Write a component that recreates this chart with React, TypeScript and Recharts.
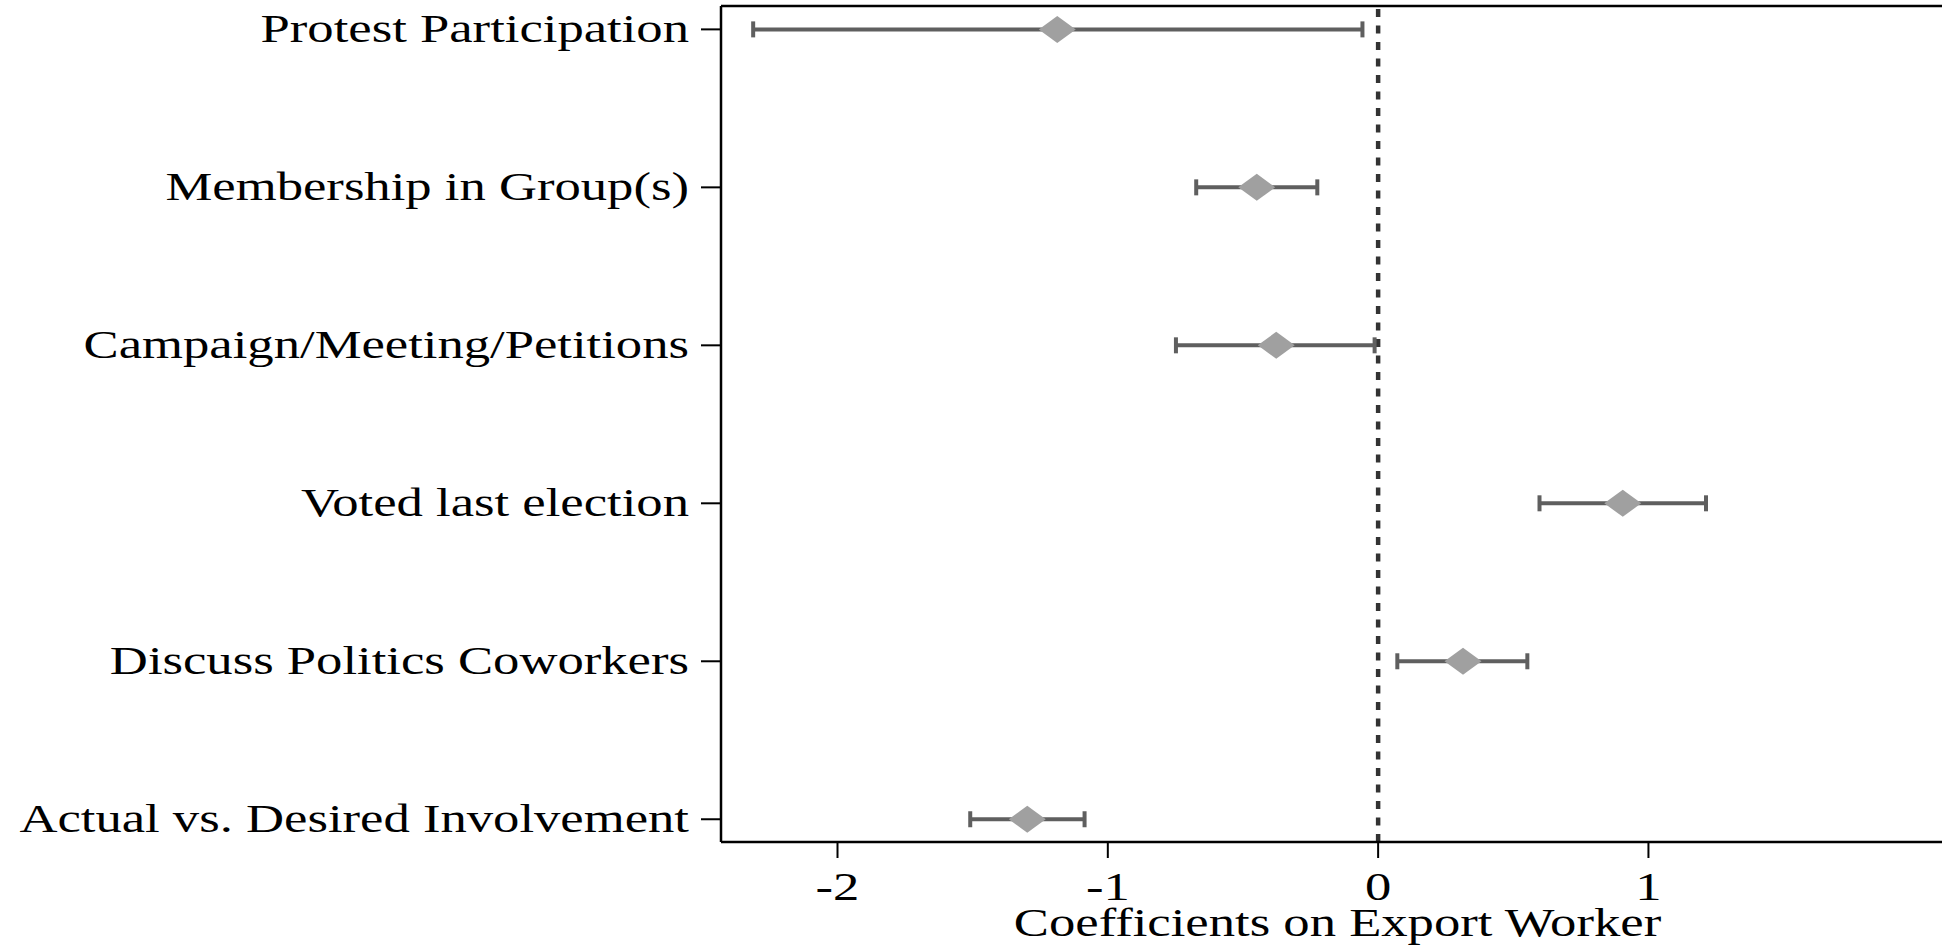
import {
  ErrorBar,
  Label,
  ReferenceLine,
  Scatter,
  ScatterChart,
  XAxis,
  YAxis,
} from "recharts";

// top to bottom, as in the figure
const OUTCOMES = [
  "Protest Participation",
  "Membership in Group(s)",
  "Campaign/Meeting/Petitions",
  "Voted last election",
  "Discuss Politics Coworkers",
  "Actual vs. Desired Involvement",
];
const COEFS = [-1.187, -0.449, -0.377, 0.905, 0.314, -1.298];
const CI_LOW = [-2.312, -0.673, -0.748, 0.597, 0.071, -1.509];
const CI_HIGH = [-0.058, -0.225, -0.013, 1.213, 0.552, -1.086];

const X_TICKS = [-2, -1, 0, 1];
const X_TITLE = "Coefficients on Export Worker";
const X_DOMAIN: [number, number] = [-2.431, 2.086];
const Y_DOMAIN: [number, number] = [0.856, 6.148];

const FONT = "'Liberation Serif', 'Times New Roman', serif";
const FONT_SIZE = 39;
// the source image is stretched sideways, text included
const STRETCH = 1.35;

const rows = OUTCOMES.map((name, i) => ({
  name,
  x: COEFS[i],
  y: OUTCOMES.length - i,
  err: [COEFS[i] - CI_LOW[i], CI_HIGH[i] - COEFS[i]],
}));

const yLabel = (v: number) => OUTCOMES[OUTCOMES.length - v] ?? "";

function WideText({ x, y, anchor, children }: any) {
  return (
    <g transform={`translate(${x},${y}) scale(${STRETCH},1)`}>
      <text
        x={0}
        y={0}
        textAnchor={anchor}
        fontSize={FONT_SIZE}
        fontFamily={FONT}
        fill="#000"
      >
        {children}
      </text>
    </g>
  );
}

function YTick(props: any) {
  const { x, y, payload } = props;
  return (
    <WideText x={x} y={y + 13} anchor="end">
      {yLabel(payload.value)}
    </WideText>
  );
}

function XTick(props: any) {
  const { x, y, payload } = props;
  return (
    <WideText x={x} y={y + 42} anchor="middle">
      {payload.value}
    </WideText>
  );
}

function XTitle(props: any) {
  const { x, y, width, height } = props.viewBox;
  return (
    <WideText x={x + width / 2 + 6} y={y + height - 12} anchor="middle">
      {X_TITLE}
    </WideText>
  );
}

function Diamond(props: any) {
  const { cx, cy } = props;
  if (cx == null || cy == null) return null;
  const w = 18.5;
  const h = 13.5;
  return (
    <polygon
      points={`${cx - w},${cy} ${cx},${cy - h} ${cx + w},${cy} ${cx},${cy + h}`}
      fill="#a0a0a0"
    />
  );
}

export default function App() {
  return (
    <div style={{ position: "absolute", left: 0, top: 0 }}>
      <ScatterChart
        width={1942}
        height={948}
        margin={{ top: 6, right: 0, bottom: 0, left: 0 }}
      >
        <XAxis
          dataKey="x"
          type="number"
          domain={X_DOMAIN}
          allowDataOverflow
          ticks={X_TICKS}
          height={106}
          tickSize={16}
          tickMargin={0}
          axisLine={{ stroke: "#000", strokeWidth: 2.5 }}
          tickLine={{ stroke: "#000", strokeWidth: 2 }}
          tick={<XTick />}
        >
          <Label content={<XTitle />} />
        </XAxis>
        <YAxis
          dataKey="y"
          type="number"
          domain={Y_DOMAIN}
          allowDataOverflow
          ticks={[1, 2, 3, 4, 5, 6]}
          width={721}
          tickSize={20}
          tickMargin={12}
          axisLine={{ stroke: "#000", strokeWidth: 2.5 }}
          tickLine={{ stroke: "#000", strokeWidth: 2 }}
          tick={<YTick />}
        />
        {/* frame on top */}
        <ReferenceLine y={Y_DOMAIN[1]} stroke="#000" strokeWidth={2.5} />
        <ReferenceLine
          x={0}
          stroke="#333"
          strokeWidth={4.5}
          strokeDasharray="8 8.5"
        />
        <Scatter data={rows} shape={<Diamond />} isAnimationActive={false}>
          <ErrorBar
            dataKey="err"
            direction="x"
            width={8}
            stroke="#5f5f5f"
            strokeWidth={4}
          />
        </Scatter>
      </ScatterChart>
    </div>
  );
}
